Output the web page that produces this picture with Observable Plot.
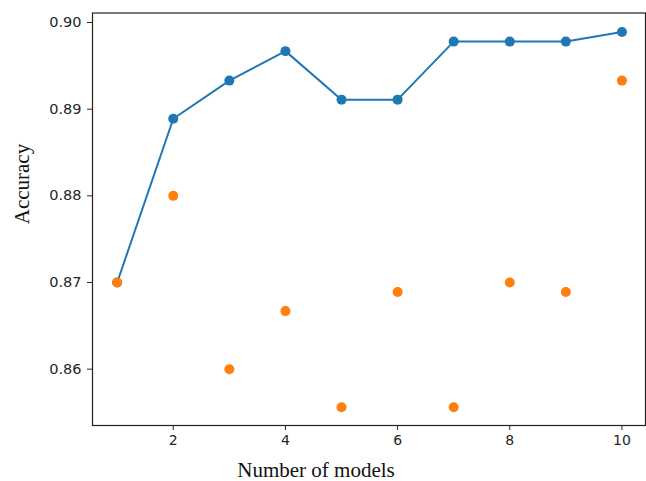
<!DOCTYPE html>
<html>
<head>
<meta charset="utf-8">
<script src="https://cdn.jsdelivr.net/npm/d3@7"></script>
<script src="https://cdn.jsdelivr.net/npm/@observablehq/plot@0.6"></script>
<style>
  html, body { margin: 0; padding: 0; background: #fff; }
</style>
</head>
<body>
<div id="chart"></div>
<script>
const models = [1, 2, 3, 4, 5, 6, 7, 8, 9, 10];
const bestAccuracy = [0.870, 0.8889, 0.8933, 0.8967, 0.8911, 0.8911, 0.8978, 0.8978, 0.8978, 0.8989];
const singleAccuracy = [0.870, 0.880, 0.860, 0.8667, 0.8556, 0.8689, 0.8556, 0.870, 0.8689, 0.8933];
const xTicks = [2, 4, 6, 8, 10];
const yTicks = [0.86, 0.87, 0.88, 0.89, 0.90];
const xLabel = "Number of models";
const yLabel = "Accuracy";

const lineData = models.map((m, i) => ({x: m, y: bestAccuracy[i]}));
const dotData = models.map((m, i) => ({x: m, y: singleAccuracy[i]}));

const tickColor = "#262626";

const chart = Plot.plot({
  width: 646,
  height: 481,
  marginLeft: 92,
  marginRight: 1,
  marginTop: 12.5,
  marginBottom: 56,
  style: {background: "#fff", overflow: "visible"},
  x: {domain: [0.56, 10.42]},
  y: {domain: [0.8535, 0.9011]},
  marks: [
    Plot.line(lineData, {x: "x", y: "y", stroke: "#1f77b4", strokeWidth: 2}),
    Plot.dot(lineData, {x: "x", y: "y", r: 5, fill: "#1f77b4", stroke: "none"}),
    Plot.dot(dotData, {x: "x", y: "y", r: 5, fill: "#ff7f0e", stroke: "none"}),
    Plot.frame({stroke: "#222", strokeWidth: 1.2}),
    Plot.axisX({ticks: xTicks, tickSize: 5, tickPadding: 5, label: null,
      fontSize: 14, fontFamily: "DejaVu Sans", color: tickColor, tickFormat: d3.format("d")}),
    Plot.axisY({ticks: yTicks, tickSize: 5, tickPadding: 6, label: null,
      fontSize: 14.5, fontFamily: "DejaVu Sans", color: tickColor, tickFormat: d3.format(".2f")}),
    Plot.text([xLabel], {text: d => d, frameAnchor: "bottom", dx: -53, dy: 45,
      fontFamily: "Liberation Serif", fontSize: 21, fill: "#111", lineAnchor: "middle"}),
    Plot.text([yLabel], {text: d => d, frameAnchor: "left", dx: -70, dy: 5, rotate: -90,
      fontFamily: "Liberation Serif", fontSize: 21, fill: "#111", lineAnchor: "middle"})
  ]
});
document.getElementById("chart").appendChild(chart);
</script>
</body>
</html>
